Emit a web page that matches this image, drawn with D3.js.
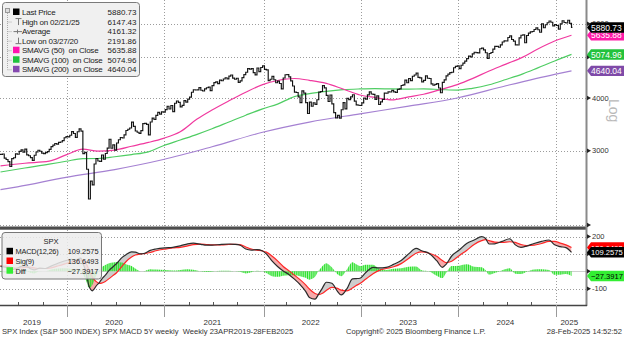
<!DOCTYPE html>
<html><head><meta charset="utf-8">
<script src="https://cdn.jsdelivr.net/npm/d3@7/dist/d3.min.js"></script>
<style>
html,body{margin:0;padding:0;background:#fff;overflow:hidden}
svg{display:block;font-family:"Liberation Sans",Arial,sans-serif}
</style></head><body>
<svg id="chart" width="624" height="337"></svg>
<script>
// ---------- DATA ----------
const firstWeekEnding = "2019-04-26";
const close2019 = [2940,2946,2881,2860,2826,2752,2873,2887,2950,2942,2990,3014,2977,3026,2932,2919,2889,2847,2926,2979,3007,2992,2962,2952,2970,2986,3023,3067,3093,3120,3110,3141,3146,3169,3221,3240];
const close2020 = [3235,3265,3330,3295,3226,3328,3380,3338,2954,2972,2711,2305,2541,2489,2790,2875,2837,2831,2930,2864,2955,3044,3194,3041,3098,3009,3130,3185,3225,3216,3271,3351,3373,3397,3508,3427,3341,3319,3298,3348,3477,3484,3465,3270,3509,3585,3558,3638,3699,3663,3709,3703];
const close2021 = [3756,3825,3768,3841,3714,3887,3935,3907,3811,3842,3943,3913,3975,4020,4129,4185,4180,4181,4233,4174,4156,4204,4230,4247,4166,4281,4352,4370,4327,4412,4395,4437,4468,4442,4509,4535,4459,4433,4455,4357,4391,4471,4545,4605,4698,4683,4698,4595,4538,4712,4621,4726,4766];
const close2022 = [4677,4663,4398,4432,4501,4419,4349,4385,4329,4204,4463,4543,4546,4488,4393,4272,4132,4123,4024,3901,4158,4109,3901,3675,3912,3825,3899,3863,3962,4130,4145,4280,4228,4058,3924,4067,3873,3693,3586,3640,3583,3753,3901,3771,3993,3965,4026,4072,3934,3852,3845,3840];
const close2023 = [3895,3999,3973,4071,4136,4090,4079,3970,4046,3862,3917,3971,4109,4105,4138,4134,4169,4136,4124,4192,4205,4282,4299,4410,4348,4450,4399,4505,4536,4582,4478,4464,4370,4406,4516,4457,4450,4320,4288,4309,4328,4224,4117,4358,4415,4514,4559,4595,4604,4719,4755,4770];
const close2024 = [4697,4784,4840,4891,4959,5027,5006,5089,5137,5124,5117,5234,5254,5204,5123,4967,5100,5128,5223,5303,5305,5278,5347,5432,5465,5460,5567,5615,5505,5459,5347,5344,5554,5635,5648,5408,5626,5703,5738,5751,5815,5865,5808,5729,5996,5871,5969,6032,6090,6051,5931,5971];
const close2025 = [5942,5827,5997,6101,6041,6026,6115,6013,5880.73];

const maWeeks = [0,13,26,35,44,52,61,70,79,87,96,105,113,122,131,140,148,157,165,174,183,192,200,209,218,226,235,244,252,261,270,279,287,296,305];
const sma50  = [2762,2802,2833,2932,3025,2993,3011,3074,3139,3210,3328,3566,3747,3939,4129,4303,4402,4450,4406,4334,4201,4067,4011,3961,4025,4084,4188,4305,4446,4636,4813,5001,5228,5461,5635.88];
const sma100 = [2671,2730,2787,2832,2874,2875,2903,2938,2982,3082,3180,3281,3382,3510,3642,3771,3870,4032,4099,4150,4187,4203,4210,4203,4200,4205,4190,4177,4218,4300,4427,4565,4716,4897,5074.96];
const sma200Weeks = [0,9,35,61,87,113,140,165,192,218,244,270,296,305];
const sma200 = [2425,2462,2594,2707,2859,3066,3318,3508,3669,3827,4000,4277,4552,4640.04];

const macdWeeks = [0,3,5,8,11,13,16,18,21,24,27,31,35,38,40,42,43,44,45,46,47,48,49,50,51,53,54,56,58,60,62,65,67,70,72,75,77,80,83,88,92,96,100,103,107,110,113,118,122,125,128,131,134,137,140,142,145,148,151,154,157,160,163,165,168,170,172,174,177,180,182,185,188,190,192,195,199,202,206,210,214,218,222,225,229,233,236,238,241,245,249,253,257,259,261,264,268,272,275,278,281,285,289,293,296,299,302,305];
const macdLine = [28,22,8,14,28,32,15,8,18,16,30,48,62,68,62,74,76,45,18,-22,-76,-102,-112,-102,-86,-62,-46,-22,5,25,45,80,95,112,110,100,104,120,128,135,138,146,158,162,155,150,150,155,157,155,150,128,122,125,117,100,60,28,2,-18,-45,-76,-115,-150,-160,-130,-95,-63,-69,-115,-136,-101,-44,-42,-40,-8,23,20,23,40,62,100,132,118,103,61,23,40,88,122,160,180,199,190,157,158,172,187,152,138,145,160,172,180,152,142,136,109.2575];
const signalLine = [32,30,24,18,19,23,24,20,16,16,20,32,45,55,58,62,65,62,54,40,16,-10,-32,-48,-58,-70,-68,-58,-42,-25,-8,30,55,82,94,100,102,108,118,128,134,138,146,153,156,154,152,152,154,155,153,140,128,122,117,110,88,60,28,4,-22,-48,-78,-102,-128,-134,-126,-110,-92,-98,-108,-112,-96,-82,-70,-46,-14,4,16,26,44,74,104,112,104,86,62,50,58,90,120,154,176,182,176,168,166,170,166,154,148,150,160,172,172,162,152,136.6493];
const diffHist = [-4,-8,-16,-4,9,9,-9,-12,2,0,10,16,17,13,4,12,11,-17,-36,-62,-92,-92,-80,-54,-28,8,22,36,47,50,53,50,40,30,16,0,2,12,10,7,4,8,12,9,-1,-4,-2,3,3,0,-3,-12,-6,3,0,-10,-28,-32,-26,-22,-23,-28,-37,-48,-32,4,31,47,23,-17,-28,11,52,40,30,38,37,16,7,14,18,26,28,6,-1,-25,-39,-10,30,32,40,26,23,8,-19,-10,6,17,-14,-16,-3,10,12,8,-20,-20,-16,-27.3917];

const priceTicks = [2000,3000,4000,5000,6000];
const macdTicks = [-100,0,100,200];
const legendLabels = ["Last Price","High on 02/21/25","Average","Low on 03/27/20","SMAVG (50)  on Close","SMAVG (100)  on Close","SMAVG (200)  on Close"];
const legendValues = [5880.73,6147.43,4161.32,2191.86,5635.88,5074.96,4640.04];
const macdLabels = ["MACD(12,26)","Sig(9)","Diff"];
const footerLeft = "SPX Index (S&P 500 INDEX) SPX MACD 5Y weekly  Weekly 23APR2019-28FEB2025";
const footerMid = "Copyright\u00A9 2025 Bloomberg Finance L.P.";
const footerRight = "28-Feb-2025 14:52:52";

// ---------- LAYOUT ----------
const W = 624, H = 337, plotR = 586;
const mainTop = 0, mainBot = 226, macdTop = 230, macdBot = 305;
const closes = [].concat(close2019, close2020, close2021, close2022, close2023, close2024, close2025);
const N = closes.length;
const x = d3.scaleLinear().domain([0, N-1]).range([0.5, 571.5]);
const yP = d3.scaleLog().domain([1989, 6831]).range([mainBot, mainTop]);
const yM = d3.scaleLinear().domain([-193.7, 237.4]).range([macdBot, macdTop]);
const t0 = d3.timeParse("%Y-%m-%d")(firstWeekEnding);
const dates = closes.map((_, i) => d3.timeDay.offset(t0, 7*i));

const col = {
  sma50: "#f0399f", sma100: "#4fcd63", sma200: "#a581d2",
  sw50: "#ff12b0", sw100: "#1fc23e", sw200: "#8549b0",
  tag50: "#ff1aa8", tag100: "#23c23c", tag200: "#7f4aa8",
  macd: "#2b2b2b", sig: "#ff2626", diff: "#27e027"
};

const yearBounds = [], quarterBounds = [];
for (let i = 1; i < N; i++) {
  const a = dates[i-1], b = dates[i];
  if (a.getFullYear() !== b.getFullYear()) yearBounds.push(i - 0.5);
  else if (Math.floor(a.getMonth()/3) !== Math.floor(b.getMonth()/3)) quarterBounds.push(i - 0.5);
}
const years = Array.from(new Set(dates.map(d => d.getFullYear())));

const svg = d3.select("#chart");
const defs = svg.append("defs");
defs.append("clipPath").attr("id","clipMain").append("rect").attr("x",0).attr("y",mainTop).attr("width",plotR).attr("height",mainBot-mainTop);
defs.append("clipPath").attr("id","clipMacd").append("rect").attr("x",0).attr("y",macdTop).attr("width",plotR).attr("height",macdBot-macdTop);

const crisp = v => Math.round(v) + 0.5;

// ---------- GRID ----------
const grid = svg.append("g").attr("stroke","#9c9c9c").attr("stroke-width",1).attr("stroke-dasharray","1,2").attr("fill","none");
yearBounds.forEach(b => {
  grid.append("line").attr("x1",crisp(x(b))).attr("x2",crisp(x(b))).attr("y1",mainTop).attr("y2",mainBot);
  grid.append("line").attr("x1",crisp(x(b))).attr("x2",crisp(x(b))).attr("y1",macdTop).attr("y2",macdBot);
});
priceTicks.forEach(t => {
  grid.append("line").attr("x1",0).attr("x2",plotR).attr("y1",crisp(yP(t))).attr("y2",crisp(yP(t)));
});
macdTicks.filter(t => t !== 0).forEach(t => {
  grid.append("line").attr("x1",0).attr("x2",plotR).attr("y1",crisp(yM(t))).attr("y2",crisp(yM(t)));
});
svg.append("line").attr("x1",0).attr("x2",plotR).attr("y1",crisp(yM(0))).attr("y2",crisp(yM(0)))
  .attr("stroke","#cfcfcf").attr("stroke-width",1);

// ---------- MAIN PANEL ----------
const main = svg.append("g").attr("clip-path","url(#clipMain)");
const maLine = (weeks) => d3.line().x((d,i) => x(weeks[i])).y(d => yP(d)).curve(d3.curveMonotoneX);
main.append("path").attr("d", maLine(maWeeks)(sma100)).attr("fill","none").attr("stroke",col.sma100).attr("stroke-width",1.2);
main.append("path").attr("d", maLine(sma200Weeks)(sma200)).attr("fill","none").attr("stroke",col.sma200).attr("stroke-width",1.2);
main.append("path").attr("d", maLine(maWeeks)(sma50)).attr("fill","none").attr("stroke",col.sma50).attr("stroke-width",1.2);

const bars = d3.path();
closes.forEach((c, i) => {
  const xi = x(i), prev = i > 0 ? closes[i-1] : c;
  bars.moveTo(xi - 0.9, yP(prev));
  bars.lineTo(xi, yP(prev));
  bars.lineTo(xi, yP(c));
  bars.lineTo(xi + 0.9, yP(c));
});
main.append("path").attr("d", bars.toString()).attr("fill","none").attr("stroke","#111").attr("stroke-width",1.15);

// ---------- MACD PANEL ----------
const macd = svg.append("g").attr("clip-path","url(#clipMacd)");
const mData = macdWeeks.map((w,i) => ({w, m: macdLine[i], s: signalLine[i], d: diffHist[i]}));
const cv = d3.curveMonotoneX;
defs.append("clipPath").attr("id","aboveSig").append("path")
  .attr("d", d3.area().x(d => x(d.w)).y0(macdTop - 5).y1(d => yM(d.s)).curve(cv)(mData));
defs.append("clipPath").attr("id","belowSig").append("path")
  .attr("d", d3.area().x(d => x(d.w)).y0(macdBot + 5).y1(d => yM(d.s)).curve(cv)(mData));
const between = d3.area().x(d => x(d.w)).y0(d => yM(d.s)).y1(d => yM(d.m)).curve(cv)(mData);
macd.append("g").attr("clip-path","url(#aboveSig)").append("path").attr("d", between).attr("fill","#cdcdcd");
macd.append("g").attr("clip-path","url(#belowSig)").append("path").attr("d", between).attr("fill","#f6aaaa");

const step = x(1) - x(0);
const pat = defs.append("pattern").attr("id","diffPat").attr("patternUnits","userSpaceOnUse")
  .attr("x", x(0) - 0.5).attr("y", 0).attr("width", step).attr("height", 20);
pat.append("rect").attr("x",0).attr("y",0).attr("width",1.3).attr("height",20).attr("fill",col.diff);
macd.append("path").attr("d", d3.area().x(d => x(d.w)).y0(yM(0)).y1(d => yM(d.d)).curve(cv)(mData))
  .attr("fill","url(#diffPat)");

macd.append("path").attr("d", d3.line().x(d => x(d.w)).y(d => yM(d.s)).curve(cv)(mData))
  .attr("fill","none").attr("stroke",col.sig).attr("stroke-width",1.2);
macd.append("path").attr("d", d3.line().x(d => x(d.w)).y(d => yM(d.m)).curve(cv)(mData))
  .attr("fill","none").attr("stroke",col.macd).attr("stroke-width",1.2);

// ---------- FRAME / AXES ----------
svg.append("rect").attr("x",0).attr("y",226.5).attr("width",plotR).attr("height",3.2).attr("fill","#4d4d4d");
svg.append("line").attr("x1",plotR+0.5).attr("x2",plotR+0.5).attr("y1",0).attr("y2",macdBot+1)
  .attr("stroke","#8a8a8a").attr("stroke-width",2);
svg.append("line").attr("x1",0).attr("x2",plotR+1).attr("y1",macdBot+0.5).attr("y2",macdBot+0.5)
  .attr("stroke","#444").attr("stroke-width",1.6);
quarterBounds.forEach(b => {
  svg.append("line").attr("x1",crisp(x(b))).attr("x2",crisp(x(b))).attr("y1",macdBot-3).attr("y2",macdBot)
    .attr("stroke","#555").attr("stroke-width",1);
});
yearBounds.forEach(b => {
  svg.append("line").attr("x1",crisp(x(b))).attr("x2",crisp(x(b))).attr("y1",macdBot).attr("y2",317)
    .attr("stroke","#9a9a9a").attr("stroke-width",1);
});
years.forEach(yr => {
  const idx = dates.map((d,i) => d.getFullYear() === yr ? i : -1).filter(i => i >= 0);
  const first = idx[0], last = idx[idx.length-1];
  const left = first === 0 ? 0 : x(first - 0.5);
  const right = last === N-1 ? plotR : x(last + 0.5);
  svg.append("text").attr("x", (left + right)/2 - 1.5).attr("y", 325).attr("text-anchor","middle")
    .attr("font-size", 8).attr("fill","#333").text(yr);
});

// value tags (positions from data)
const priceTags = [
  {v: sma200[sma200.length-1], fill: col.tag200, txt: "#fff"},
  {v: sma100[sma100.length-1], fill: col.tag100, txt: "#fff"},
  {v: sma50[sma50.length-1],  fill: col.tag50,  txt: "#fff"},
  {v: closes[N-1],            fill: "#000",     txt: "#fff"}
];
const macdTags = [
  {v: signalLine[signalLine.length-1], fill: "#ff0000", txt: "#fff"},
  {v: macdLine[macdLine.length-1],     fill: "#000",    txt: "#fff"},
  {v: diffHist[diffHist.length-1],     fill: "#33ee33", txt: "#000"}
];

const arrow = (yv) => `M${plotR+1},${yv-2.2}L${plotR+5},${yv}L${plotR+1},${yv+2.2}Z`;
priceTicks.forEach(t => {
  const yv = yP(t);
  svg.append("path").attr("d", arrow(yv)).attr("fill","#222");
  const covered = priceTags.some(g => Math.abs(yP(g.v) - yv) < 3);
  if (yv < mainBot - 4 && !covered) svg.append("text").attr("x", plotR+6).attr("y", yv+2.7).attr("font-size",7.5).attr("fill","#333").text(t);
});
macdTicks.forEach(t => {
  const yv = yM(t);
  svg.append("path").attr("d", arrow(yv)).attr("fill","#222");
  const covered = macdTags.some(g => Math.abs(yM(g.v) - yv) < 6);
  if (!covered) svg.append("text").attr("x", plotR+6).attr("y", yv+2.7).attr("font-size",7.5).attr("fill","#333").text(t);
});
svg.append("text").attr("transform","translate(609,99) rotate(90)").attr("font-size",14).attr("fill","#b9b9b9").text("Log");

function tag(yc, fill, txtFill, label, fs) {
  svg.append("path").attr("d", `M${plotR+1},${yc}L${plotR+5},${yc-5.2}H${W}V${yc+5.2}H${plotR+5}Z`).attr("fill", fill);
  svg.append("text").attr("x", plotR+5).attr("y", yc+3.1).attr("font-size",fs).attr("fill",txtFill).text(label);
}
priceTags.forEach(g => tag(yP(g.v), g.fill, g.txt, d3.format(".2f")(g.v), 8.5));
macdTags.forEach(g => tag(yM(g.v), g.fill, g.txt, d3.format(".4f")(g.v), 7.6));

// ---------- MAIN LEGEND ----------
const lg = svg.append("g");
lg.append("rect").attr("x",2.5).attr("y",2.5).attr("width",137).attr("height",74).attr("rx",3)
  .attr("fill","#f0f0f0").attr("stroke","#7a7a7a");
const rowY = i => 12 + i*9.55;
lg.append("line").attr("x1",7.5).attr("x2",7.5).attr("y1",13).attr("y2",rowY(6)).attr("stroke","#aaa").attr("stroke-dasharray","1,1");
lg.append("rect").attr("x",5.5).attr("y",8.5).attr("width",4).attr("height",4).attr("fill","#ddd").attr("stroke","#999");
const swatches = ["#000", null, null, null, col.sw50, col.sw100, col.sw200];
legendLabels.forEach((lab, i) => {
  const yc = rowY(i);
  if (i > 0) lg.append("line").attr("x1",7.5).attr("x2",12).attr("y1",yc+0.5).attr("y2",yc+0.5).attr("stroke","#aaa").attr("stroke-dasharray","1,1");
  if (swatches[i]) {
    lg.append("rect").attr("x",13).attr("y",yc-3.5).attr("width",6.5).attr("height",6.5).attr("fill",swatches[i]);
  } else {
    const s = d3.path();
    if (i === 1) { s.moveTo(15.5, yc-3); s.lineTo(21.5, yc-3); s.moveTo(18.5, yc-3); s.lineTo(18.5, yc+3.5); }
    if (i === 2) { s.moveTo(13.5, yc+0.5); s.lineTo(22, yc+0.5); s.moveTo(17.5, yc-1.5); s.lineTo(17.5, yc+2.5); }
    if (i === 3) { s.moveTo(18.5, yc-3); s.lineTo(18.5, yc+3); s.moveTo(15.5, yc+3); s.lineTo(21.5, yc+3); }
    lg.append("path").attr("d", s.toString()).attr("stroke","#777").attr("fill","none");
  }
  lg.append("text").attr("x",22).attr("y",yc+3).attr("font-size",8).attr("letter-spacing",-0.22).attr("fill","#222")
    .style("white-space","pre").text(lab);
  lg.append("text").attr("x",136.5).attr("y",yc+3).attr("font-size",8).attr("fill","#222")
    .attr("text-anchor","end").text(d3.format(".2f")(legendValues[i]));
});

// ---------- MACD LEGEND ----------
const ml = svg.append("g");
ml.append("rect").attr("x",2).attr("y",232.5).attr("width",99.5).attr("height",46.5).attr("rx",3)
  .attr("fill","#ececec").attr("fill-opacity",0.85).attr("stroke","#777");
ml.append("text").attr("x",51).attr("y",244).attr("text-anchor","middle").attr("font-size",7.6).attr("fill","#222").text("SPX");
const mVals = [macdLine[macdLine.length-1], signalLine[signalLine.length-1], diffHist[diffHist.length-1]];
const mCols = ["#000", "#ff0000", "#33ee33"];
macdLabels.forEach((lab, i) => {
  const yc = 251.3 + i*9.7;
  ml.append("rect").attr("x",6.5).attr("y",yc-3.5).attr("width",6.5).attr("height",6.5).attr("fill",mCols[i]);
  ml.append("text").attr("x",15.5).attr("y",yc+3).attr("font-size",7.4).attr("letter-spacing",-0.2).attr("fill","#222").text(lab);
  ml.append("text").attr("x",98.5).attr("y",yc+3).attr("font-size",7.4).attr("fill","#222").attr("text-anchor","end")
    .text(d3.format(".4f")(mVals[i]));
});

// ---------- FOOTER ----------
svg.append("text").attr("x",2).attr("y",334).attr("font-size",7.6).attr("fill","#333").style("white-space","pre").text(footerLeft);
svg.append("text").attr("x",346).attr("y",334).attr("font-size",7.6).attr("fill","#333").text(footerMid);
svg.append("text").attr("x",622).attr("y",334).attr("font-size",7.6).attr("fill","#333").attr("text-anchor","end").text(footerRight);
</script>
</body></html>
